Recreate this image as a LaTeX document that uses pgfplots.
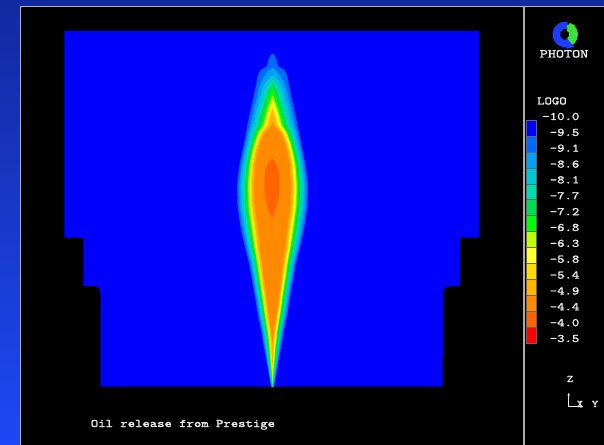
\documentclass[border=0pt]{standalone}
\usepackage{pgfplots}
\pgfplotsset{compat=1.18}
\usetikzlibrary{arrows.meta}
\usepackage{fontspec}
\newfontfamily\pixfont[FakeStretch=1.22,FakeBold=1.6]{lmmono10-regular.otf}
\newfontfamily\logofont[FakeStretch=1.28,FakeBold=1.6]{lmmono10-regular.otf}
\definecolor{bgtop}{RGB}{18,42,160}
\definecolor{bgbot}{RGB}{30,72,245}
\definecolor{dom}{RGB}{0,0,255}
\definecolor{k1}{RGB}{0,105,255}
\definecolor{k2}{RGB}{0,160,245}
\definecolor{k3}{RGB}{0,200,215}
\definecolor{k4}{RGB}{0,220,170}
\definecolor{k5}{RGB}{0,220,80}
\definecolor{k6}{RGB}{0,255,0}
\definecolor{k7}{RGB}{190,255,0}
\definecolor{k8}{RGB}{255,255,50}
\definecolor{k9}{RGB}{255,220,0}
\definecolor{k10}{RGB}{255,180,0}
\definecolor{k11}{RGB}{255,138,0}
\definecolor{k12}{RGB}{255,100,0}
\definecolor{k13}{RGB}{255,0,0}
\definecolor{txt}{RGB}{235,235,235}
\definecolor{logoblue}{RGB}{30,60,255}
\definecolor{logogreen}{RGB}{60,225,60}
\begin{document}
\begin{tikzpicture}
\useasboundingbox (0,0) rectangle (604bp,445bp);
\shade[top color=bgtop, bottom color=bgbot] (0,0) rectangle (604bp,445bp);
\fill[black] (20bp,0) rectangle (604bp,439bp);
\draw[line width=1bp, gray!60] (20.5bp,0) -- (20.5bp,438.5bp) -- (604bp,438.5bp);
\draw[line width=1.3bp, gray!65] (524bp,0) -- (524bp,438.5bp);
\begin{axis}[at={(0,0)}, anchor=south west, width=604bp, height=445bp, scale only axis,
  xmin=0, xmax=604, ymin=0, ymax=445, y dir=reverse, hide axis, clip=false]
% domain
\addplot[fill=dom, draw=none] coordinates {(64.3,31) (479.3,31) (479.3,237.7) (460,237.7) (460,286) (447,286.5) (444.5,288.5) (443.3,292) (443.3,356.7) (442.7,356.7) (442.7,386.7) (100.7,386.7) (100.7,296) (100,290) (98,287) (95,286) (83.3,286) (83.3,237.7) (64.3,237.7)} -- cycle;
% L1
\addplot[fill=k1, draw=none] coordinates {(272.5,54) (270.5,55) (268.5,60) (267,66) (260.5,70) (258,75) (257,80) (256,85) (255,90) (254,95) (253,100) (251.5,106) (250.2,112) (248.9,118) (247.5,125) (246,133) (244.2,142) (242.2,152) (239.5,165) (237,185) (237.5,205) (239.2,218) (241.5,232) (245,247) (249,263) (252,280) (255,297) (257.5,313) (261,330) (263.5,345) (266,358) (267.8,368) (269.2,376) (270.3,382) (271.5,387) (273.5,387) (274.7,382) (275.8,376) (277.2,368) (279,358) (281.5,345) (284,330) (287.5,313) (290,297) (293,280) (296,263) (300,247) (303.5,232) (305.8,218) (307.5,205) (308,185) (305.5,165) (302.8,152) (300.8,142) (299,133) (297.5,125) (296.1,118) (294.8,112) (293.5,106) (292,100) (291,95) (290,90) (289,85) (288,80) (287,75) (284.5,70) (278,66) (276.5,60) (274.5,55)} -- cycle;
% L2
\addplot[fill=k2, draw=none] coordinates {(272.5,68) (268.9,70) (265.2,75) (262.2,80) (260.1,85) (258.5,90) (257.4,95) (256.2,100) (254.6,106) (253.2,112) (251.8,118) (250.4,125) (248.2,133) (246.2,142) (244,152) (241.4,165) (239,185) (239.5,205) (241.2,218) (243.5,232) (246.7,247) (250.6,263) (253.4,280) (256.4,297) (258.8,313) (262.2,330) (264.6,345) (266.8,358) (268.5,368) (269.7,376) (270.7,382) (271.7,387) (273.3,387) (274.3,382) (275.3,376) (276.5,368) (278.2,358) (280.4,345) (282.8,330) (286.2,313) (288.6,297) (291.6,280) (294.4,263) (298.3,247) (301.5,232) (303.8,218) (305.5,205) (306,185) (303.6,165) (301,152) (298.8,142) (296.8,133) (294.6,125) (293.2,118) (291.8,112) (290.4,106) (288.8,100) (287.6,95) (286.5,90) (284.9,85) (282.8,80) (279.8,75) (276.1,70)} -- cycle;
% L3
\addplot[fill=k3, draw=none] coordinates {(272.5,75) (267.3,80) (264.2,85) (262.1,90) (260.7,95) (259.5,100) (257.7,106) (256.2,112) (254.8,118) (253.3,125) (250.4,133) (248.1,142) (245.9,152) (243.2,165) (241.1,185) (241.6,205) (243.3,218) (245.5,232) (248.5,247) (252.1,263) (254.9,280) (257.8,297) (260.1,313) (263.4,330) (265.7,345) (267.6,358) (269.1,368) (270.2,376) (271.1,382) (271.9,387) (273.1,387) (273.9,382) (274.8,376) (275.9,368) (277.4,358) (279.3,345) (281.6,330) (284.9,313) (287.2,297) (290.1,280) (292.9,263) (296.5,247) (299.5,232) (301.7,218) (303.4,205) (303.9,185) (301.8,165) (299.1,152) (296.9,142) (294.6,133) (291.7,125) (290.2,118) (288.8,112) (287.3,106) (285.5,100) (284.3,95) (282.9,90) (280.8,85) (277.7,80)} -- cycle;
% L4
\addplot[fill=k4, draw=none] coordinates {(272.5,80) (268.2,85) (265.6,90) (264.1,95) (262.7,100) (260.9,106) (259.2,112) (257.7,118) (256.1,125) (252.7,133) (250.1,142) (247.7,152) (245.1,165) (243.1,185) (243.6,205) (245.3,218) (247.4,232) (250.2,247) (253.7,263) (256.3,280) (259.1,297) (261.5,313) (264.6,330) (266.7,345) (268.5,358) (269.8,368) (270.7,376) (271.45,382) (272.15,387) (272.85,387) (273.55,382) (274.3,376) (275.2,368) (276.5,358) (278.3,345) (280.4,330) (283.5,313) (285.9,297) (288.7,280) (291.3,263) (294.8,247) (297.6,232) (299.7,218) (301.4,205) (301.9,185) (299.9,165) (297.3,152) (294.9,142) (292.3,133) (288.9,125) (287.3,118) (285.8,112) (284.1,106) (282.3,100) (280.9,95) (279.4,90) (276.8,85)} -- cycle;
% L5
\addplot[fill=k5, draw=none] coordinates {(272.5,84) (271.6,85) (268.6,90) (266.9,95) (265.4,100) (263.5,106) (261.7,112) (260.2,118) (258.5,125) (254.5,133) (251.7,142) (249.2,152) (246.6,165) (244.8,185) (245.3,205) (247,218) (249.1,232) (251.7,247) (255,263) (257.5,280) (260.3,297) (262.6,313) (265.6,330) (267.6,345) (269.1,358) (270.4,368) (271.1,376) (271.8,382) (272.3,387) (272.7,387) (273.2,382) (273.9,376) (274.6,368) (275.9,358) (277.4,345) (279.4,330) (282.4,313) (284.7,297) (287.5,280) (290,263) (293.3,247) (295.9,232) (298,218) (299.7,205) (300.2,185) (298.4,165) (295.8,152) (293.3,142) (290.5,133) (286.5,125) (284.8,118) (283.3,112) (281.5,106) (279.6,100) (278.1,95) (276.4,90) (273.4,85)} -- cycle;
% L6
\addplot[fill=k6, draw=none] coordinates {(272.5,88.6) (271.5,90) (269.7,95) (268.1,100) (266.1,106) (264.2,112) (262.6,118) (260.9,125) (256.4,133) (253.3,142) (250.8,152) (248.2,165) (246.5,185) (247,205) (248.7,218) (250.7,232) (253.1,247) (256.3,263) (258.7,280) (261.4,297) (263.7,313) (266.6,330) (268.5,345) (269.8,358) (270.9,368) (271.55,376) (272.1,382) (272.5,387) (272.9,382) (273.45,376) (274.1,368) (275.2,358) (276.5,345) (278.4,330) (281.3,313) (283.6,297) (286.3,280) (288.7,263) (291.9,247) (294.3,232) (296.3,218) (298,205) (298.5,185) (296.8,165) (294.2,152) (291.7,142) (288.6,133) (284.1,125) (282.4,118) (280.8,112) (278.9,106) (276.9,100) (275.3,95) (273.5,90)} -- cycle;
% L7
\addplot[fill=k7, draw=none] coordinates {(272.5,94.2) (272.2,95) (270.6,100) (268.4,106) (266.5,112) (264.8,118) (263.1,125) (258,133) (254.8,142) (252.1,152) (249.6,165) (248,185) (248.5,205) (250.2,218) (252.2,232) (254.4,247) (257.4,263) (259.8,280) (262.5,297) (264.6,313) (267.5,330) (269.3,345) (270.4,358) (271.4,368) (271.9,376) (272.4,382) (272.5,384) (272.6,382) (273.1,376) (273.6,368) (274.6,358) (275.7,345) (277.5,330) (280.4,313) (282.5,297) (285.2,280) (287.6,263) (290.6,247) (292.8,232) (294.8,218) (296.5,205) (297,185) (295.4,165) (292.9,152) (290.2,142) (287,133) (281.9,125) (280.2,118) (278.5,112) (276.6,106) (274.4,100) (272.8,95)} -- cycle;
% L8
\addplot[fill=k8, draw=none] coordinates {(272.5,100.5) (270.5,106) (268.45,112) (266.8,118) (265,125) (259.5,133) (256.1,142) (253.4,152) (250.8,165) (249.4,185) (249.9,205) (251.6,218) (253.5,232) (255.6,247) (258.5,263) (260.8,280) (263.4,297) (265.5,313) (268.3,330) (270.1,345) (271,358) (271.9,368) (272.3,376) (272.5,379.5) (272.7,376) (273.1,368) (274,358) (274.9,345) (276.7,330) (279.5,313) (281.6,297) (284.2,280) (286.5,263) (289.4,247) (291.5,232) (293.4,218) (295.1,205) (295.6,185) (294.2,165) (291.6,152) (288.9,142) (285.5,133) (280,125) (278.2,118) (276.55,112) (274.5,106)} -- cycle;
% L9
\addplot[fill=k9, draw=none] coordinates {(272.5,105.5) (272.3,106) (270.2,112) (268.5,118) (266.7,125) (260.8,133) (257.2,142) (254.4,152) (251.9,165) (250.6,185) (251.1,205) (252.8,218) (254.7,232) (256.6,247) (259.4,263) (261.6,280) (264.2,297) (266.3,313) (269,330) (270.7,345) (271.4,358) (272.3,368) (272.5,374) (272.7,368) (273.6,358) (274.3,345) (276,330) (278.7,313) (280.8,297) (283.4,280) (285.6,263) (288.4,247) (290.3,232) (292.2,218) (293.9,205) (294.4,185) (293.1,165) (290.6,152) (287.8,142) (284.2,133) (278.3,125) (276.5,118) (274.8,112) (272.7,106)} -- cycle;
% L10
\addplot[fill=k10, draw=none] coordinates {(272.5,110.5) (271.95,112) (270.2,118) (268.4,125) (262.1,133) (258.4,142) (255.5,152) (253,165) (251.8,185) (252.3,205) (254,218) (255.9,232) (257.6,247) (260.3,263) (262.4,280) (265,297) (267.1,313) (269.7,330) (271.3,345) (271.9,358) (272.5,366) (273.1,358) (273.7,345) (275.3,330) (277.9,313) (280,297) (282.6,280) (284.7,263) (287.4,247) (289.1,232) (291,218) (292.7,205) (293.2,185) (292,165) (289.5,152) (286.6,142) (282.9,133) (276.6,125) (274.8,118) (273.05,112)} -- cycle;
% L11
\addplot[fill=k11, draw=none] coordinates {(272.5,121.3) (271.5,125) (264.5,133) (260.5,142) (257.5,152) (255,165) (254,185) (254.5,205) (256.2,218) (258,232) (259.5,247) (262,263) (264,280) (266.5,297) (268.5,313) (271,330) (272.5,345) (274,330) (276.5,313) (279,297) (281,280) (283,263) (285.5,247) (287,232) (288.7,218) (290.5,205) (291,185) (290,165) (287.5,152) (284.5,142) (280.5,133) (273.5,125)} -- cycle;
% L12
\addplot[fill=k12, draw=none] coordinates {(272,159) (268,163) (266,168) (264.8,175) (264.3,185) (265,195) (266.5,202) (268,208) (269.5,213) (272,218) (274.5,213) (276,208) (277.5,202) (279,195) (279.7,185) (279.2,175) (278,168) (276,163)} -- cycle;
% colour bar
\addplot[fill=dom, draw=black!60, line width=0.6bp] coordinates {(526.7,120) (536.7,120) (536.7,135.95) (526.7,135.95)} -- cycle;
\addplot[fill=k1, draw=black!60, line width=0.6bp] coordinates {(526.7,135.95) (536.7,135.95) (536.7,151.9) (526.7,151.9)} -- cycle;
\addplot[fill=k2, draw=black!60, line width=0.6bp] coordinates {(526.7,151.9) (536.7,151.9) (536.7,167.85) (526.7,167.85)} -- cycle;
\addplot[fill=k3, draw=black!60, line width=0.6bp] coordinates {(526.7,167.85) (536.7,167.85) (536.7,183.8) (526.7,183.8)} -- cycle;
\addplot[fill=k4, draw=black!60, line width=0.6bp] coordinates {(526.7,183.8) (536.7,183.8) (536.7,199.75) (526.7,199.75)} -- cycle;
\addplot[fill=k5, draw=black!60, line width=0.6bp] coordinates {(526.7,199.75) (536.7,199.75) (536.7,215.7) (526.7,215.7)} -- cycle;
\addplot[fill=k6, draw=black!60, line width=0.6bp] coordinates {(526.7,215.7) (536.7,215.7) (536.7,231.65) (526.7,231.65)} -- cycle;
\addplot[fill=k7, draw=black!60, line width=0.6bp] coordinates {(526.7,231.65) (536.7,231.65) (536.7,247.6) (526.7,247.6)} -- cycle;
\addplot[fill=k8, draw=black!60, line width=0.6bp] coordinates {(526.7,247.6) (536.7,247.6) (536.7,263.55) (526.7,263.55)} -- cycle;
\addplot[fill=k9, draw=black!60, line width=0.6bp] coordinates {(526.7,263.55) (536.7,263.55) (536.7,279.5) (526.7,279.5)} -- cycle;
\addplot[fill=k10, draw=black!60, line width=0.6bp] coordinates {(526.7,279.5) (536.7,279.5) (536.7,295.45) (526.7,295.45)} -- cycle;
\addplot[fill=k11, draw=black!60, line width=0.6bp] coordinates {(526.7,295.45) (536.7,295.45) (536.7,311.4) (526.7,311.4)} -- cycle;
\addplot[fill=k12, draw=black!60, line width=0.6bp] coordinates {(526.7,311.4) (536.7,311.4) (536.7,327.35) (526.7,327.35)} -- cycle;
\addplot[fill=k13, draw=black!60, line width=0.6bp] coordinates {(526.7,327.35) (536.7,327.35) (536.7,343.3) (526.7,343.3)} -- cycle;
% colour bar labels
\begin{scope}[every node/.style={anchor=base east, inner sep=0pt, text=txt, font=\pixfont\fontsize{11.5bp}{12bp}\selectfont}]
\node at (axis cs:579.5,120.0) {-10.0};
\node at (axis cs:579.5,135.9) {-9.5};
\node at (axis cs:579.5,151.7) {-9.1};
\node at (axis cs:579.5,167.6) {-8.6};
\node at (axis cs:579.5,183.4) {-8.1};
\node at (axis cs:579.5,199.3) {-7.7};
\node at (axis cs:579.5,215.2) {-7.2};
\node at (axis cs:579.5,231.0) {-6.8};
\node at (axis cs:579.5,246.9) {-6.3};
\node at (axis cs:579.5,262.7) {-5.8};
\node at (axis cs:579.5,278.6) {-5.4};
\node at (axis cs:579.5,294.5) {-4.9};
\node at (axis cs:579.5,310.3) {-4.4};
\node at (axis cs:579.5,326.2) {-4.0};
\node at (axis cs:579.5,342.0) {-3.5};
\end{scope}
\node[anchor=base west, inner sep=0pt, text=txt, font=\pixfont\fontsize{11.5bp}{12bp}\selectfont] at (axis cs:537,104.5) {LOGO};
\node[anchor=base, inner sep=0pt, text=txt, font=\logofont\fontsize{12bp}{12bp}\selectfont] at (axis cs:564,57.5) {PHOTON};
\node[anchor=base west, inner sep=0pt, text=txt, font=\pixfont\fontsize{11.5bp}{12bp}\selectfont] at (axis cs:90.7,427) {Oil release from Prestige};
\node[anchor=base, inner sep=0pt, text=txt, font=\pixfont\fontsize{10bp}{12bp}\selectfont] at (axis cs:570,382) {Z};
\node[anchor=base, inner sep=0pt, text=txt, font=\pixfont\fontsize{10bp}{12bp}\selectfont] at (axis cs:580,407) {X};
\node[anchor=base, inner sep=0pt, text=txt, font=\pixfont\fontsize{10bp}{12bp}\selectfont] at (axis cs:595,407) {Y};
\draw[txt, line width=0.8bp, -{Stealth[length=2.5bp,width=2.5bp]}] (axis cs:568.7,406.7) -- (axis cs:568.7,393);
\draw[txt, line width=0.8bp, -{Stealth[length=2.5bp,width=2.5bp]}] (axis cs:568.7,406.7) -- (axis cs:582.7,406.7);
\end{axis}
% logo
\coordinate (c) at (565.5bp,410.5bp);
\fill[logogreen] ([shift={(-65:12.5bp)}]c) arc[start angle=-65, end angle=70, radius=12.5bp] -- ([shift={(70:4bp)}]c) arc[start angle=70, end angle=-65, radius=4bp] -- cycle;
\fill[logogreen] ([shift={(45:14bp)}]c) -- ([shift={(95:10bp)}]c) -- ([shift={(40:5bp)}]c) -- cycle;
\fill[logoblue] ([shift={(80:13bp)}]c) arc[start angle=80, end angle=290, radius=13bp] -- ([shift={(290:5.5bp)}]c) arc[start angle=290, end angle=80, radius=5.5bp] -- cycle;
\fill[logoblue] ([shift={(305:15bp)}]c) -- ([shift={(275:14.5bp)}]c) -- ([shift={(285:3.5bp)}]c) -- cycle;
\end{tikzpicture}
\end{document}
